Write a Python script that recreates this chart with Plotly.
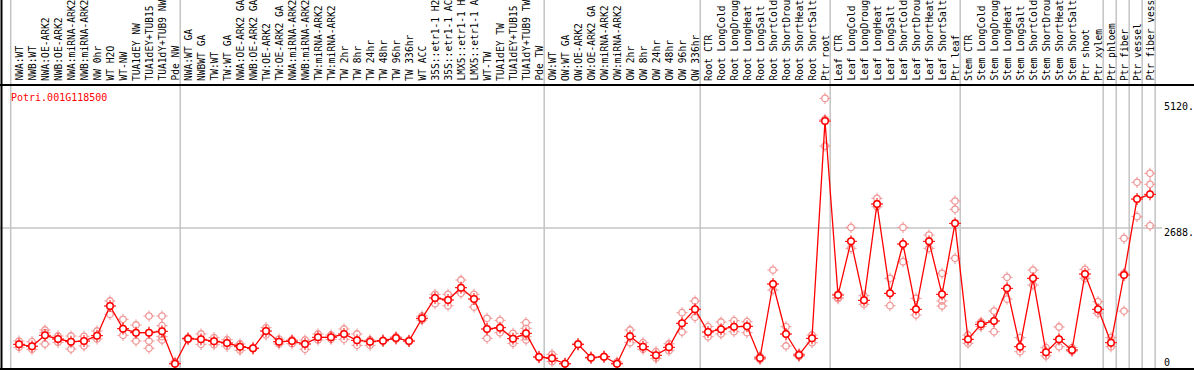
import plotly.graph_objects as go

labels = [
    "NWA:WT", "NWB:WT", "NWA:OE-ARK2", "NWB:OE-ARK2", "NWA:miRNA-ARK2", "NWB:miRNA-ARK2",
    "NW 0hr", "WT H2O", "WT-NW", "TUA1dEY NW", "TUA1dEY+TUB15", "TUA1dY+TUB9 NW", "Pde NW",
    "NWA:WT GA", "NWBWT GA", "TW:WT", "TW:WT GA", "NWA:OE-ARK2 GA", "NWB:OE-ARK2 GA",
    "TW:OE-ARK2", "TW:OE-ARK2 GA", "NWA:miRNA-ARK2", "NWB:miRNA-ARK2", "TW:miRNA-ARK2",
    "TW:miRNA-ARK2", "TW 2hr", "TW 8hr", "TW 24hr", "TW 48hr", "TW 96hr", "TW 336hr",
    "WT ACC", "35S::etr1-1 H2", "35S::etr1-1 AC", "LMX5::etr1-1 H", "LMX5::etr1-1 A",
    "WT-TW", "TUA1dEY TW", "TUA1dEY+TUB15", "TUA1dY+TUB9 TW", "Pde TW",
    "OW:WT", "OW:WT GA", "OW:OE-ARK2", "OW:OE-ARK2 GA", "OW:miRNA-ARK2", "OW:miRNA-ARK2",
    "OW 2hr", "OW 8hr", "OW 24hr", "OW 48hr", "OW 96hr", "OW 336hr",
    "Root CTR", "Root LongCold", "Root LongDroug", "Root LongHeat", "Root LongSalt",
    "Root ShortCold", "Root ShortDrou", "Root ShortHeat", "Root ShortSalt", "Ptr root",
    "Leaf CTR", "Leaf LongCold", "Leaf LongDroug", "Leaf LongHeat", "Leaf LongSalt",
    "Leaf ShortCold", "Leaf ShortDrou", "Leaf ShortHeat", "Leaf ShortSalt", "Ptr leaf",
    "Stem CTR", "Stem LongCold", "Stem LongDroug", "Stem LongHeat", "Stem LongSalt",
    "Stem ShortCold", "Stem ShortDrou", "Stem ShortHeat", "Stem ShortSalt", "Ptr shoot",
    "Ptr xylem", "Ptr phloem", "Ptr fiber", "Ptr vessel", "Ptr fiber vess",
]

means = [
    389, 350, 567, 494, 441, 454, 560, 1146, 698, 619, 619, 646, 5,
    501, 487, 448, 415, 342, 310, 652, 441, 454, 395, 527, 527, 593, 468, 441, 461, 514,
    454, 903, 1304, 1265, 1508, 1284, 692, 718, 501, 606, 138,
    112, 5, 389, 125, 145, 6, 547, 342, 171, 329, 804, 1081,
    632, 685, 738, 745, 119, 1581, 593, 178, 507, 4802,
    1363, 2424, 1258, 3162, 1396, 2371, 1081, 2424, 1377, 2780,
    487, 784, 850, 1495, 342, 1693, 231, 487, 277, 1778, 1081,
    421, 1759, 3260, 3353,
]

replicates = [
    [454, 389, 330], [441, 350, 290], [672, 619, 395], [553, 494, 428], [553, 441, 296],
    [547, 454, 356], [652, 560, 494], [1245, 1146, 982], [883, 698, 567], [771, 619, 454],
    [948, 619, 454, 310], [948, 757, 646, 540, 474], [40, 10, 0],
    [520, 501, 480], [593, 487, 389], [520, 448, 380], [480, 415, 350], [395, 342, 270],
    [320, 310, 300], [718, 652, 573], [490, 441, 395], [480, 454, 400], [474, 395, 290],
    [593, 527, 474], [573, 527, 487], [692, 593, 487], [593, 468, 369], [474, 441, 369],
    [470, 461, 450], [540, 514, 487], [470, 454, 440], [948, 903, 869], [1377, 1304, 1192],
    [1377, 1265, 1152], [1660, 1508, 1397], [1377, 1284, 1126], [903, 692, 507],
    [863, 718, 619], [606, 501, 408], [817, 705, 606, 540, 474], [150, 138, 125],
    [191, 112, 46], [10, 5, 0], [400, 389, 380], [135, 125, 115], [155, 145, 135],
    [40, 6, 0], [672, 547, 421], [421, 342, 290], [243, 171, 112], [400, 329, 263],
    [1014, 804, 632], [1245, 1081, 923],
    [738, 632, 540], [830, 685, 593], [856, 738, 639], [836, 745, 619], [150, 119, 90],
    [1857, 1581, 1462], [738, 593, 356], [200, 178, 150], [573, 507, 421], [5250, 4836, 4308],
    [1380, 1310, 1290], [2700, 2424, 2286], [1350, 1258, 1180], [3274, 3162, 3108],
    [1693, 1396, 1152], [2700, 2371, 2022], [1298, 1081, 968], [2549, 2424, 2286],
    [1792, 1377, 1245, 1146], [3221, 3057, 2089],
    [573, 487, 409], [830, 784, 740], [1047, 850, 639], [1713, 1495, 1284], [520, 342, 243],
    [1857, 1693, 1561], [323, 231, 158], [731, 487, 342], [323, 277, 250], [1871, 1778, 1693],
    [1231, 1081, 1002], [520, 421, 342], [2484, 1792, 1047], [3590, 3260, 2911],
    [3768, 3551, 2733],
]

group_ends = [13, 41, 53, 63, 73, 84, 85, 86, 87, 88]
y_ticks = [5120, 2688, 0]
y_tick_text = ["5120.", "2688.", "0"]
gene = "Potri.001G118500"

W, H = 1194, 370
PX_X = 13.0          # pixels per category
X0_PX = 19.0         # pixel of first category
PX_Y = 136.0 / 2688  # pixels per expression unit
Y0_PX = 364.0        # pixel (from top) of value 0

x = list(range(1, len(labels) + 1))
x_lo = 1 - X0_PX / PX_X
x_hi = x_lo + W / PX_X
y_hi = Y0_PX / PX_Y
y_lo = y_hi - H / PX_Y

FONT = "DejaVu Sans Mono"
RED = "#ff0000"
PINK = "rgb(240,150,150)"
GRAY = "#c4c4c4"

rx, ry = [], []
for i, reps in zip(x, replicates):
    for v in reps:
        rx.append(i)
        ry.append(v)

fig = go.Figure()
# replicate markers: small ticks, white interior, then pink ring outlines
fig.add_trace(go.Scatter(x=rx, y=ry, mode="markers", hoverinfo="skip",
                         marker=dict(symbol="cross-thin-open", size=8, color=PINK,
                                     line=dict(color=PINK, width=1))))
fig.add_trace(go.Scatter(x=rx, y=ry, mode="markers", hoverinfo="skip",
                         marker=dict(symbol="circle", size=6, color="white",
                                     line=dict(width=0))))
fig.add_trace(go.Scatter(x=rx, y=ry, mode="markers",
                         marker=dict(symbol="circle-open", size=6.5, color=PINK,
                                     line=dict(color=PINK, width=1.3))))
# mean line and markers
fig.add_trace(go.Scatter(x=x, y=means, mode="lines", line=dict(color=RED, width=1.3)))
fig.add_trace(go.Scatter(x=x, y=means, mode="markers", hoverinfo="skip",
                         marker=dict(symbol="cross-thin-open", size=8.5, color=RED,
                                     line=dict(color=RED, width=1))))
fig.add_trace(go.Scatter(x=x, y=means, mode="markers",
                         marker=dict(symbol="circle", size=6.5, color="white",
                                     line=dict(color=RED, width=1.5))))

shapes = []
# vertical group separators
sep_x = [1 - 8.3 / PX_X] + [e + 0.4 for e in group_ends]
for sx in sep_x:
    shapes.append(dict(type="line", xref="x", yref="paper", x0=sx, x1=sx, y0=1 / H, y1=1,
                       line=dict(color=GRAY, width=1.5), layer="below"))
# horizontal grid line
shapes.append(dict(type="line", xref="paper", yref="y", x0=0, x1=1162 / W, y0=2688, y1=2688,
                   line=dict(color=GRAY, width=1.5), layer="below"))
# black frame lines
shapes.append(dict(type="line", xref="paper", yref="paper", x0=0, x1=1, y0=1 - 85 / H, y1=1 - 85 / H,
                   line=dict(color="black", width=2)))
shapes.append(dict(type="line", xref="paper", yref="paper", x0=0, x1=1, y0=1 - 369 / H, y1=1 - 369 / H,
                   line=dict(color="black", width=2)))
shapes.append(dict(type="line", xref="paper", yref="paper", x0=1.5 / W, x1=1.5 / W, y0=0, y1=1,
                   line=dict(color="black", width=2)))

annotations = []
for i, lab in zip(x, labels):
    annotations.append(dict(x=i, y=1 - 83 / H, xref="x", yref="paper", text=lab, showarrow=False,
                            textangle=-90, xanchor="center", yanchor="bottom",
                            font=dict(family=FONT, size=9.6, color="black")))
shifts = [-2, -4, 2]
for v, t, s in zip(y_ticks, y_tick_text, shifts):
    annotations.append(dict(x=1162 / W, y=v, xref="paper", yref="y", text=t, showarrow=False,
                            xanchor="left", yanchor="middle", yshift=s,
                            font=dict(family=FONT, size=10, color="black")))
annotations.append(dict(x=9 / W, y=1 - 97 / H, xref="paper", yref="paper", text=gene, showarrow=False,
                        xanchor="left", yanchor="middle", font=dict(family=FONT, size=10, color=RED)))

fig.update_layout(
    width=W, height=H, margin=dict(l=0, r=0, t=0, b=0, pad=0),
    paper_bgcolor="white", plot_bgcolor="white", showlegend=False,
    xaxis=dict(range=[x_lo, x_hi], visible=False, fixedrange=True),
    yaxis=dict(range=[y_lo, y_hi], visible=False, fixedrange=True),
    shapes=shapes, annotations=annotations,
)

fig.write_html("out.html", config={"displayModeBar": False, "staticPlot": True},
               post_script="document.body.style.margin='0';document.body.style.overflow='hidden';")
